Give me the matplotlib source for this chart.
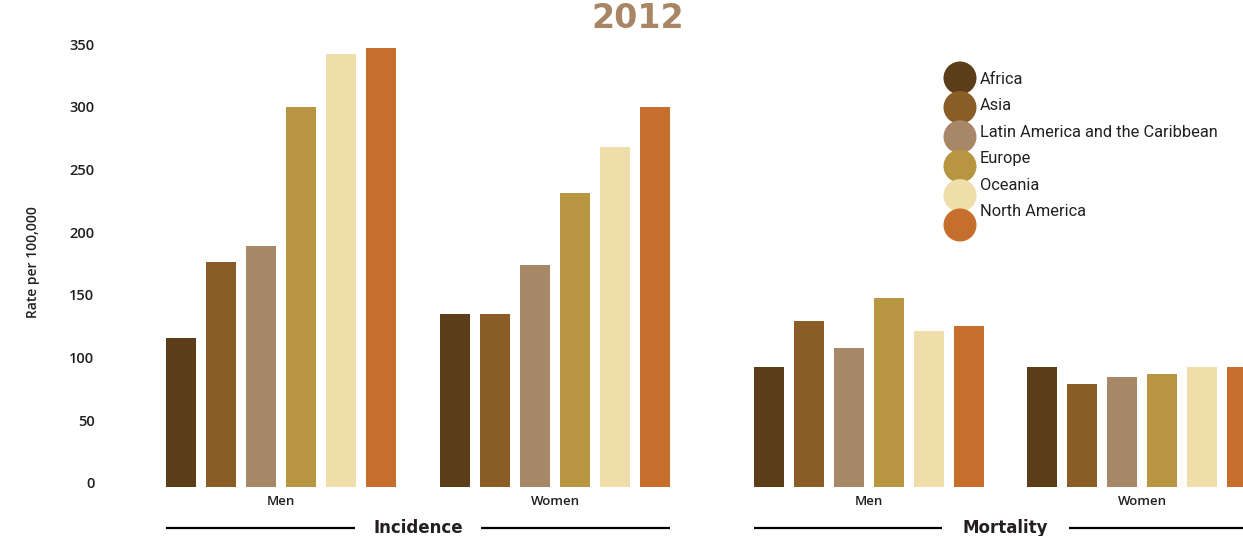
import matplotlib
matplotlib.use("Agg")
import matplotlib.pyplot as plt
from matplotlib.patches import Circle
import matplotlib.transforms as mtransforms

# regions and their colours
regions = ["Africa", "Asia", "Latin America and the Caribbean",
           "Europe", "Oceania", "North America"]
colors = ["#5c3d1a", "#8a5d27", "#a68869", "#b89541", "#efddaa", "#c66e2b"]

# rates per 100,000, one value per region
incidence_men = [119, 179, 192, 303, 345, 350]
incidence_women = [138, 138, 177, 234, 271, 303]
mortality_men = [96, 132, 111, 151, 124, 128]
mortality_women = [96, 82, 88, 90, 96, 96]

groups = [incidence_men, incidence_women, mortality_men, mortality_women]
group_labels = ["Men", "Women", "Men", "Women"]
sections = ["Incidence", "Mortality"]
yticks = [0, 50, 100, 150, 200, 250, 300, 350]

W, H = 1243, 536
fig = plt.figure(figsize=(W / 100, H / 100), dpi=100)

ax = fig.add_axes([100 / W, 49 / H, (W - 100) / W, 439 / H])
group_starts = [0, 6.85, 14.7, 21.525]
bar_w = 0.75
for start, vals in zip(group_starts, groups):
    xs = [start + i for i in range(len(vals))]
    ax.bar(xs, vals, width=bar_w, align="edge", color=colors, linewidth=0)

ax.set_xlim(-1.65, 26.925)
ax.set_ylim(0, 350)
for s in ax.spines.values():
    s.set_visible(False)

ax.set_yticks(yticks)
ax.set_yticklabels([str(t) for t in yticks], fontfamily="Open Sans",
                   fontweight="semibold", fontsize=10.5, color="#231f20")
centers = [s + (5 + bar_w) / 2 for s in group_starts]
ax.set_xticks(centers)
ax.set_xticklabels(group_labels, fontfamily="Open Sans",
                   fontweight="semibold", fontsize=9.5, color="#231f20")
ax.tick_params(axis="both", length=0)
ax.tick_params(axis="y", pad=4)
ax.tick_params(axis="x", pad=6)

# nudge the value labels up a little (after tick_params, which resets them)
lift = mtransforms.ScaledTranslation(0, 4 / 100, fig.dpi_scale_trans)
for tick in ax.yaxis.get_major_ticks():
    tick.label1.set_transform(tick.label1.get_transform() + lift)

fig.text(33 / W, 1 - 262 / H, "Rate per 100,000", rotation=90,
         ha="center", va="center", fontfamily="Open Sans",
         fontweight="semibold", fontsize=10, color="#231f20")

# section captions with rules on either side
trans = mtransforms.blended_transform_factory(ax.transData, fig.transFigure)
y_rule = 8 / H
gap = 1.58
for k, name in enumerate(sections):
    left = group_starts[2 * k]
    right = group_starts[2 * k + 1] + 5 + bar_w
    mid = (left + right) / 2
    ax.text(mid, y_rule, name, transform=trans, ha="center", va="center",
            fontfamily="DejaVu Sans", fontweight="bold", fontsize=12,
            color="#231f20", clip_on=False)
    for x0, x1 in [(left, mid - gap), (mid + gap, right)]:
        ax.plot([x0, x1], [y_rule, y_rule], transform=trans, color="black",
                lw=1.6, clip_on=False, solid_capstyle="butt")

fig.text(638 / W, 1 - 19 / H, "2012", ha="center", va="center",
         fontfamily="DejaVu Sans", fontweight="bold", fontsize=24,
         color="#a88564")

# legend: overlapping discs with labels beside them
ov = fig.add_axes([0, 0, 1, 1])
ov.set_xlim(0, W)
ov.set_ylim(H, 0)
ov.axis("off")
for i, (name, c) in enumerate(zip(regions, colors)):
    ov.add_patch(Circle((960, 78 + 29.4 * i), 16.5, color=c, lw=0))
    ov.text(980, 79 + 26.6 * i, name, ha="left", va="center",
            fontfamily="Roboto", fontsize=11.8, color="#231f20")

fig.savefig("out.png", dpi=100)
